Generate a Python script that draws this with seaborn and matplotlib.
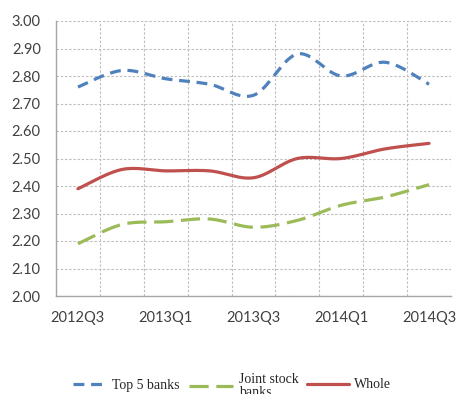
import numpy as np
import pandas as pd
import matplotlib
matplotlib.use("Agg")
import matplotlib.pyplot as plt
import seaborn as sns

quarters = ["2012Q3", "2012Q4", "2013Q1", "2013Q2", "2013Q3",
            "2013Q4", "2014Q1", "2014Q2", "2014Q3"]
top5_banks = [2.76, 2.82, 2.79, 2.77, 2.73, 2.88, 2.80, 2.85, 2.77]
joint_stock_banks = [2.19, 2.26, 2.27, 2.28, 2.25, 2.275, 2.33, 2.36, 2.405]
whole = [2.39, 2.46, 2.455, 2.455, 2.43, 2.50, 2.50, 2.535, 2.555]
y_ticks = [2.00, 2.10, 2.20, 2.30, 2.40, 2.50, 2.60, 2.70, 2.80, 2.90, 3.00]
shown_quarters = ["2012Q3", "2013Q1", "2013Q3", "2014Q1", "2014Q3"]


def smooth(values, steps=30):
    """Catmull-Rom curve through the points (like a spreadsheet 'smoothed line')."""
    p = np.asarray(values, dtype=float)
    x = np.arange(len(p), dtype=float)
    px = np.concatenate([[x[0]], x, [x[-1]]])
    py = np.concatenate([[p[0]], p, [p[-1]]])
    xs, ys = [], []
    t = np.linspace(0, 1, steps, endpoint=False)
    for i in range(1, len(px) - 2):
        for arr, out in ((px, xs), (py, ys)):
            p0, p1, p2, p3 = arr[i - 1], arr[i], arr[i + 1], arr[i + 2]
            out.append(0.5 * ((2 * p1) + (-p0 + p2) * t
                              + (2 * p0 - 5 * p1 + 4 * p2 - p3) * t ** 2
                              + (-p0 + 3 * p1 - 3 * p2 + p3) * t ** 3))
    xs.append(np.array([x[-1]]))
    ys.append(np.array([p[-1]]))
    return np.concatenate(xs), np.concatenate(ys)


sns.set_style("white")
plt.rcParams["font.family"] = ["Lato", "DejaVu Sans"]

W, H = 461, 394
fig = plt.figure(figsize=(W / 100, H / 100), dpi=100)
ax = fig.add_axes([56 / W, 1 - 296 / H, 395 / W, 275 / H])

series = [
    ("Top 5 banks", top5_banks, "#4F81BD", (3.4, 2.1)),
    ("Joint stock\nbanks", joint_stock_banks, "#9BBB59", (6.0, 2.4)),
    ("Whole", whole, "#C0504D", None),
]

handles = []
for name, vals, color, dash in series:
    sx, sy = smooth(vals)
    df = pd.DataFrame({"x": sx, "y": sy})
    sns.lineplot(data=df, x="x", y="y", color=color, linewidth=2.3,
                 estimator=None, sort=False, legend=False, ax=ax)
    line = ax.lines[-1]
    if dash is not None:
        line.set_dashes(dash)
    handles.append(line)

if ax.get_legend() is not None:
    ax.get_legend().remove()

ax.set_xlim(-0.5, len(quarters) - 0.5)
ax.set_ylim(2.0, 3.0)
ax.set_yticks(y_ticks)
ax.set_yticklabels([f"{v:.2f}" for v in y_ticks])
ax.set_xticks([quarters.index(q) for q in shown_quarters])
ax.set_xticklabels(shown_quarters)
ax.set_xticks(np.arange(-0.5, len(quarters), 1.0), minor=True)
ax.set_xlabel("")
ax.set_ylabel("")

grid_kw = dict(color="#BFBFBF", linestyle=(0, (2.2, 1.6)), linewidth=0.8)
ax.grid(axis="y", which="major", **grid_kw)
ax.grid(axis="x", which="minor", **grid_kw)
ax.grid(axis="x", which="major", visible=False)

for side in ("top", "right"):
    ax.spines[side].set_visible(False)
for side in ("left", "bottom"):
    ax.spines[side].set_color("#A6A6A6")
    ax.spines[side].set_linewidth(1.0)

ax.tick_params(axis="both", which="both", length=0, labelsize=10.5,
               labelcolor="#404040")
ax.tick_params(axis="y", pad=11)
ax.tick_params(axis="x", pad=11)

# one legend box per entry, laid out in a row under the plot
legend_spots = [(73, 385, 2.4), (189, 386, 3.2), (307, 385, 3.0)]
for (name, _, _, _), h, (lx, ly, hl) in zip(series, handles, legend_spots):
    leg = fig.legend(handles=[h], labels=[name], loc="center left",
                     bbox_to_anchor=(lx / W, 1 - ly / H), frameon=False,
                     borderpad=0, borderaxespad=0, handlelength=hl,
                     handletextpad=0.4,
                     prop={"family": "Liberation Serif", "size": 10})
    for t in leg.get_texts():
        t.set_linespacing(0.95)

fig.savefig("out.png", dpi=100)
